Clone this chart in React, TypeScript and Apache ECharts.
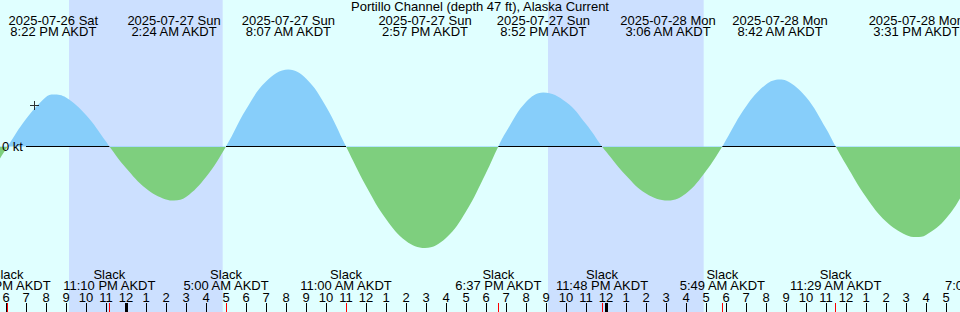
import React, { useEffect, useRef } from "react";
import * as echarts from "echarts";

// ---------- data (hours are counted from 2025-07-26 00:00 AKDT) ----------
const TITLE = "Portillo Channel (depth 47 ft), Alaska Current";

const hourlyHours = [
  17, 18, 19, 20, 21, 22, 23, 24, 25, 26, 27, 28, 29, 30, 31, 32, 33, 34, 35, 36, 37, 38, 39, 40, 41,
  42, 43, 44, 45, 46, 47, 48, 49, 50, 51, 52, 53, 54, 55, 56, 57, 58, 59, 60, 61, 62, 63, 64, 65, 66, 67,
];
const hourlyKnots = [
  -0.68, -0.07, 0.55, 0.99, 0.98, 0.63, 0.1, -0.43, -0.84, -1.06, -1.01, -0.61, 0, 0.74, 1.3, 1.54, 1.36,
  0.8, 0, -0.79, -1.45, -1.89, -2.03, -1.83, -1.3, -0.53, 0.29, 0.89, 1.08, 0.89, 0.45, -0.1, -0.58,
  -0.94, -1.08, -0.94, -0.49, 0.13, 0.8, 1.24, 1.32, 0.99, 0.36, -0.36, -1.01, -1.5, -1.77, -1.77,
  -1.44, -0.83, -0.06,
];

const slackDays = [26, 26, 27, 27, 27, 27, 28, 28, 28];
const slackTimes = ["6:05 PM", "11:10 PM", "5:00 AM", "11:00 AM", "6:37 PM", "11:48 PM", "5:49 AM", "11:29 AM", "7:06 PM"];

const extremeDates = [
  "2025-07-26 Sat", "2025-07-27 Sun", "2025-07-27 Sun", "2025-07-27 Sun",
  "2025-07-27 Sun", "2025-07-28 Mon", "2025-07-28 Mon", "2025-07-28 Mon",
];
const extremeTimes = ["8:22 PM", "2:24 AM", "8:07 AM", "2:57 PM", "8:52 PM", "3:06 AM", "8:42 AM", "3:31 PM"];
const extremeKnots = [1.04, -1.08, 1.54, -2.03, 1.08, -1.08, 1.34, -1.81];

const nightStartDays = [26, 27];
const nightStartTimes = ["9:09 PM", "9:06 PM"];
const nightEndDays = [27, 28];
const nightEndTimes = ["4:50 AM", "4:53 AM"];

const midnightHours = [24, 48];
const nowMarkHour = 19.425;
const nowMarkKnots = 0.82;

// ---------- helpers ----------
const TZ = "AKDT";
const FONT = "Liberation Sans";
const FONT_SIZE = 13;
const LINE_H = 11.5;
const DAY_BG = "#e0ffff";
const NIGHT_BG = "#cce0ff";
const FLOOD = "#87cefa";
const EBB = "#7ecf7e";

function toHours(day: number, t: string): number {
  const m = t.match(/(\d+):(\d+)\s*(AM|PM)/)!;
  let h = parseInt(m[1], 10) % 12;
  if (m[3] === "PM") h += 12;
  return (day - 26) * 24 + h + parseInt(m[2], 10) / 60;
}

const slackHours = slackTimes.map((t, i) => toHours(slackDays[i], t));
const extremeHours = extremeTimes.map((t, i) => toHours(parseInt(extremeDates[i].slice(8, 10), 10), t));
const nightIntervals = nightStartTimes.map((t, i) => [
  toHours(nightStartDays[i], t),
  toHours(nightEndDays[i], nightEndTimes[i]),
]);

function findIndex(list: number[], v: number): number {
  let best = 0;
  for (let i = 1; i < list.length; i++) if (Math.abs(list[i] - v) < Math.abs(list[best] - v)) best = i;
  return best;
}

export default function App() {
  const ref = useRef<HTMLDivElement>(null);

  useEffect(() => {
    if (!ref.current) return;
    const chart = echarts.init(ref.current, undefined, { renderer: "svg" });

    const events: number[][] = [
      ...slackHours.map((h) => [h, 0]),
      ...extremeHours.map((h, i) => [h, extremeKnots[i]]),
    ];
    const hourly = hourlyHours
      .map((h, i) => [h, hourlyKnots[i]])
      .filter(([h]) => events.every(([e]) => Math.abs(e - h) > 0.15));
    const curve = [...events, ...hourly].sort((a, b) => a[0] - b[0]);

    // zero line drawn only under flood (positive) periods, starting after the "0 kt" label
    const zeroLineStart = 19.0;
    const floodSegments: number[][] = [];
    for (let i = 0; i < slackHours.length - 1; i++) {
      const a = slackHours[i];
      const b = slackHours[i + 1];
      const ext = extremeHours.findIndex((h) => h > a && h < b);
      if (ext >= 0 && extremeKnots[ext] > 0) floodSegments.push([Math.max(a, zeroLineStart), b]);
    }

    const xMin = 17;
    const xMax = 68;
    const pxPerHour = 20;
    const yMax = 2.93;
    const yMin = -3.31;

    const baseX = {
      type: "value",
      min: xMin,
      max: xMax,
      z: 10,
      axisLine: { show: false, onZero: false },
      splitLine: { show: false },
    };
    const labelText = { color: "#000", fontFamily: FONT, fontSize: FONT_SIZE, lineHeight: LINE_H };

    const PLUS = "path://M4,0h1v4h4v1h-4v4h-1v-4h-4v-1h4z";

    const option: any = {
      animation: false,
      backgroundColor: DAY_BG,
      textStyle: { fontFamily: FONT, fontSize: FONT_SIZE, color: "#000" },
      title: {
        text: TITLE,
        left: "center",
        top: 0,
        z: 10,
        padding: [1, 0, 0, 0],
        textStyle: { fontFamily: FONT, fontSize: FONT_SIZE, fontWeight: "normal", color: "#000", lineHeight: LINE_H },
      },
      grid: {
        left: -14,
        top: 0,
        width: (xMax - xMin) * pxPerHour,
        height: 312,
        containLabel: false,
        outerBoundsMode: "none",
      },
      visualMap: {
        show: false,
        type: "piecewise",
        seriesIndex: 0,
        dimension: 1,
        pieces: [
          { min: -10, max: 0, color: EBB },
          { min: 0, max: 10, color: FLOOD },
        ],
      },
      xAxis: [
        {
          ...baseX,
          position: "bottom",
          interval: 1,
          axisTick: { show: true, inside: true, length: 9, lineStyle: { color: "#000", width: 1 } },
          axisLabel: {
            ...labelText,
            inside: true,
            margin: 8.75,
            formatter: (v: number) => String(Math.round(v) % 12 || 12),
          },
        },
        {
          ...baseX,
          position: "bottom",
          axisTick: {
            show: true,
            inside: true,
            length: 9,
            customValues: slackHours,
            lineStyle: { color: "#ff0000", width: 1 },
          },
          axisLabel: {
            ...labelText,
            inside: true,
            margin: 20.75,
            customValues: slackHours,
            formatter: (v: number) => "Slack\n" + slackTimes[findIndex(slackHours, v)] + " " + TZ,
          },
        },
        {
          ...baseX,
          position: "bottom",
          axisTick: {
            show: true,
            inside: true,
            length: 9,
            customValues: midnightHours,
            lineStyle: { color: "#000", width: 3 },
          },
          axisLabel: { show: false },
        },
        {
          ...baseX,
          position: "top",
          axisTick: { show: false },
          axisLabel: {
            ...labelText,
            inside: true,
            margin: 14.25,
            customValues: extremeHours,
            formatter: (v: number) => {
              const i = findIndex(extremeHours, v);
              return extremeDates[i] + "\n" + extremeTimes[i] + " " + TZ;
            },
          },
        },
      ],
      yAxis: {
        type: "value",
        min: yMin,
        max: yMax,
        position: "left",
        z: 10,
        axisLine: { show: false, onZero: false },
        splitLine: { show: false },
        axisTick: { show: false },
        axisLabel: {
          ...labelText,
          inside: true,
          margin: 16,
          customValues: [0],
          formatter: () => "0 kt",
        },
      },
      series: [
        {
          type: "line",
          data: curve,
          smooth: 0.4,
          symbol: "none",
          lineStyle: { width: 0 },
          areaStyle: { opacity: 1 },
          z: 2,
          silent: true,
          markArea: {
            silent: true,
            itemStyle: { color: NIGHT_BG },
            label: { show: false },
            data: nightIntervals.map(([a, b]) => [{ xAxis: a }, { xAxis: b }]),
          },
          markLine: {
            silent: true,
            symbol: ["none", "none"],
            label: { show: false },
            lineStyle: { color: "#000", width: 1, type: "solid" },
            data: floodSegments.map(([a, b]) => [{ coord: [a, 0] }, { coord: [b, 0] }]),
          },
        },
        {
          type: "scatter",
          data: [[nowMarkHour, nowMarkKnots]],
          symbol: PLUS,
          symbolSize: 9,
          itemStyle: { color: "#000" },
          silent: true,
          z: 6,
        },
      ],
    };

    chart.setOption(option);
    return () => chart.dispose();
  }, []);

  return (
    <div
      ref={ref}
      style={{ position: "fixed", left: 0, top: 0, width: 960, height: 312 }}
    />
  );
}
